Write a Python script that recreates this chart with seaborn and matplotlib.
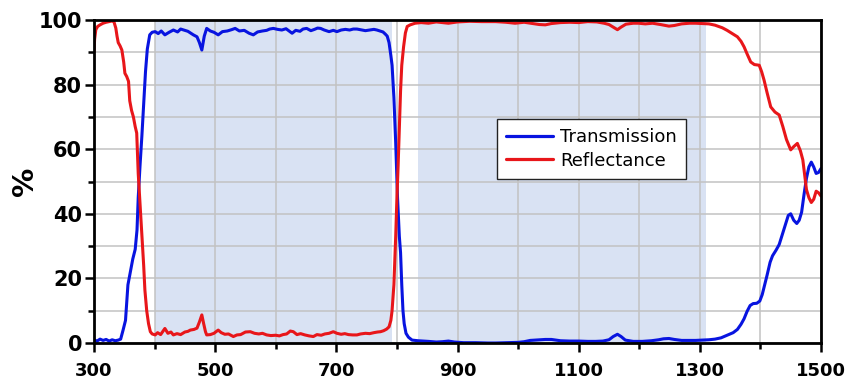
import matplotlib
matplotlib.use("Agg")
import matplotlib.pyplot as plt
import seaborn as sns
import pandas as pd
from matplotlib.ticker import MultipleLocator

# Transmission spectrum (wavelength in nm, value in %)
trans_nm = [300, 305, 310, 315, 320, 325, 330, 335, 340, 344, 348, 352, 356, 360, 364, 368,
            371, 373, 376, 379, 382, 385, 388, 392, 396, 401, 406, 411, 417, 424, 431, 438,
            443, 448, 455, 464, 470, 474, 478, 482, 486, 492, 498, 505, 512, 520, 527, 533,
            540, 548, 556, 563, 570, 578, 585, 590, 596, 603, 610, 617, 622, 627, 633, 640,
            645, 651, 658, 664, 669, 674, 680, 688, 695, 701, 708, 715, 722, 728, 734, 740,
            748, 755, 762, 767, 772, 777, 781, 784, 787, 790, 792, 795, 798, 801, 804, 806,
            808, 810, 812, 815, 819, 825, 835, 845, 852, 865, 875, 885, 895, 910, 930, 950,
            963, 980, 1000, 1010, 1020, 1035, 1045, 1055, 1070, 1085, 1100, 1115, 1128, 1140,
            1150, 1157, 1164, 1170, 1177, 1190, 1205, 1220, 1232, 1240, 1249, 1258, 1270,
            1283, 1293, 1305, 1315, 1325, 1335, 1345, 1355, 1362, 1368, 1373, 1378, 1383,
            1388, 1394, 1399, 1403, 1407, 1411, 1416, 1420, 1426, 1431, 1436, 1441, 1446,
            1450, 1455, 1460, 1464, 1468, 1472, 1476, 1480, 1484, 1488, 1492, 1496, 1500]
trans_pct = [1.0, 0.6, 1.2, 0.8, 1.1, 0.6, 1.0, 0.7, 0.9, 1.2, 4, 7, 18, 22, 26, 29,
             35, 45, 55, 64, 74, 84, 91, 95.4, 96.2, 96.4, 95.8, 96.6, 95.4, 96.2, 96.9, 96.3,
             97.2, 96.9, 96.5, 95.4, 94.8, 93, 90.7, 95, 97.4, 96.6, 96.2, 95.4, 96.4, 96.6, 97, 97.4,
             96.6, 96.8, 95.9, 95.4, 96.3, 96.6, 96.8, 97.2, 97.4, 97.1, 96.9, 97.3, 96.6, 95.9, 96.8, 96.5,
             97.2, 97.4, 96.7, 97.1, 97.5, 97.4, 96.9, 96.4, 96.8, 96.4, 96.9, 97.1, 96.9, 97.2, 97.2, 97.0,
             96.7, 96.9, 97.1, 96.9, 96.6, 96.3, 95.6, 95.0, 93, 89, 86, 76, 62, 45, 33, 28,
             18, 10, 6, 3, 1.8, 0.9, 0.7, 0.6, 0.5, 0.3, 0.4, 0.6, 0.3, 0.1, 0.1, 0.0,
             0.0, 0.1, 0.2, 0.4, 0.8, 1.0, 1.1, 1.1, 0.7, 0.6, 0.6, 0.5, 0.5, 0.6,
             1.0, 2.0, 2.7, 2.0, 0.9, 0.5, 0.5, 0.7, 1.0, 1.3, 1.4, 1.1, 0.8,
             0.8, 0.8, 0.9, 1.0, 1.2, 1.6, 2.4, 3.2, 4.2, 5.8, 7.5, 9.8, 11.6,
             12.2, 12.3, 13, 15, 18, 21, 25, 27, 28.8, 30.5, 33.5, 36.5, 39.5,
             40, 38, 37, 38, 40.5, 46, 51, 54.5, 56, 54.5, 52.5, 52.8, 54]

# Reflectance spectrum (wavelength in nm, value in %)
refl_nm = [300, 301, 303, 306, 310, 315, 320, 325, 330, 333, 336, 338, 340, 343, 346, 349,
           351, 354, 357, 359, 362, 365, 368, 370.5, 372, 373, 376, 379, 382, 384, 387, 390,
           393, 396, 401, 405, 410, 417, 422, 427, 431, 437, 443, 450, 455, 459, 465, 470,
           474, 478, 481, 484, 486, 492, 498, 505, 510, 516, 522, 530, 536, 542, 550, 558,
           565, 572, 578, 585, 592, 600, 606, 612, 618, 624, 629, 635, 641, 648, 655, 662,
           668, 675, 681, 688, 695, 701, 708, 714, 720, 727, 734, 740, 748, 755, 762, 768,
           773, 778, 783, 787, 790, 792, 795, 798, 800, 802, 804, 806, 808, 811, 814, 817,
           822, 830, 840, 852, 865, 885, 900, 920, 940, 963, 980, 995, 1010, 1025, 1035,
           1045, 1055, 1070, 1085, 1100, 1115, 1130, 1142, 1150, 1157, 1164, 1170, 1178,
           1190, 1199, 1210, 1222, 1235, 1249, 1258, 1270, 1283, 1293, 1305, 1315, 1325,
           1337, 1345, 1355, 1362, 1368, 1373, 1378, 1384, 1390, 1398, 1402, 1406, 1411,
           1417, 1424, 1431, 1437, 1443, 1450, 1455, 1461, 1466, 1470, 1473, 1476, 1480,
           1484, 1488, 1492, 1496, 1500]
refl_pct = [90, 94, 97, 98, 98.5, 99, 99.3, 99.5, 99.7, 99.4, 97.5, 95, 93, 92, 90.7, 87,
            83.5, 82.5, 81, 75, 72, 70, 67, 65, 58, 52.5, 43, 34, 24, 16.4, 10, 6,
            3.5, 2.8, 2.5, 3.2, 2.6, 4.5, 3.0, 3.4, 2.5, 2.9, 2.6, 3.4, 3.6, 4.0, 4.2, 4.6,
            6.5, 8.7, 6, 3.5, 2.5, 2.6, 3.0, 4.0, 3.2, 2.7, 2.8, 2.0, 2.5, 2.6, 3.4, 3.5,
            3.0, 2.8, 3.0, 2.5, 2.3, 2.4, 2.2, 2.6, 2.8, 3.7, 3.5, 2.6, 2.9, 2.5, 2.2, 2.0,
            2.6, 2.4, 2.8, 3.0, 3.5, 3.0, 2.7, 2.9, 2.6, 2.5, 2.5, 2.8, 3.0, 2.9, 3.2, 3.4,
            3.5, 3.8, 4.3, 5.0, 7, 10, 18, 33, 45, 55, 67, 78, 86, 91.7, 96, 98,
            98.5, 99, 99.2, 99, 99.4, 99.0, 99.4, 99.6, 99.5, 99.5, 99.3, 99.0, 99.3, 98.9, 98.6,
            98.5, 98.9, 99.2, 99.3, 99.2, 99.5, 99.4, 99.0, 98.6, 97.8, 97.0, 97.8, 98.7,
            99.0, 99.0, 98.8, 99.0, 98.6, 98.1, 98.3, 98.8, 99.0, 99.0, 98.9, 98.8, 98.4,
            97.6, 96.8, 95.6, 94.8, 93.4, 91.7, 89.5, 87, 86.2, 86, 84, 81.4, 77.5,
            73.1, 71.5, 70.6, 67, 63, 59.8, 60.8, 61.8, 59.5, 56.7, 52, 47.5, 45,
            43.5, 44.5, 47, 46.5, 45.5]

series_names = ["Transmission", "Reflectance"]
series_colors = ["#0814e0", "#e8161a"]

# Highlighted wavelength bands (nm)
band_edges = [(400, 792), (834, 1311)]

x_ticks = [300, 500, 700, 900, 1100, 1300, 1500]
y_ticks = [0, 20, 40, 60, 80, 100]

df = pd.concat([
    pd.DataFrame({"nm": trans_nm, "pct": trans_pct, "series": series_names[0]}),
    pd.DataFrame({"nm": refl_nm, "pct": refl_pct, "series": series_names[1]}),
], ignore_index=True)

sns.set_theme(style="white")
plt.rcParams["font.family"] = ["DejaVu Sans"]
plt.rcParams["text.color"] = "black"
plt.rcParams["axes.labelcolor"] = "black"
plt.rcParams["xtick.color"] = "black"
plt.rcParams["ytick.color"] = "black"

fig = plt.figure(figsize=(8.49, 3.82), dpi=100)
ax = fig.add_axes([94 / 849, 1 - 343 / 382, 727 / 849, 323 / 382])

for lo, hi in band_edges:
    ax.axvspan(lo, hi, color="#d9e2f3", lw=0, zorder=0)

sns.lineplot(data=df, x="nm", y="pct", hue="series", hue_order=series_names,
             palette=series_colors, estimator=None, sort=True, lw=2.2, ax=ax, zorder=3)

ax.set_xlim(300, 1500)
ax.set_ylim(0, 100)
ax.set_xticks(x_ticks)
ax.set_yticks(y_ticks)
ax.xaxis.set_minor_locator(MultipleLocator(100))
ax.yaxis.set_minor_locator(MultipleLocator(10))
ax.set_axisbelow(False)
ax.grid(True, which="both", color="#c2c2c2", lw=1.1)

ax.tick_params(axis="both", which="major", direction="out", length=6.5, width=1.8,
               color="black", labelcolor="black", bottom=True, left=True)
ax.tick_params(axis="both", which="minor", direction="out", length=4.5, width=1.8,
               color="black", bottom=True, left=True)
ax.tick_params(axis="x", which="major", labelsize=13, pad=7)
ax.tick_params(axis="y", which="major", labelsize=15, pad=2)
for lab in ax.get_xticklabels() + ax.get_yticklabels():
    lab.set_fontweight("bold")

for side in ["left", "bottom", "top", "right"]:
    ax.spines[side].set_visible(True)
    ax.spines[side].set_color("black")
    ax.spines[side].set_linewidth(2.0)
    ax.spines[side].set_zorder(5)

ax.set_xlabel("")
ax.set_ylabel("%", fontsize=21, fontweight="bold", labelpad=0, color="black")

leg = ax.legend(loc="upper left", bbox_to_anchor=(0.554, 0.693), borderaxespad=0,
                fontsize=13, frameon=True, fancybox=False, framealpha=1,
                edgecolor="#222222", facecolor="white",
                handlelength=2.6, handletextpad=0.4, labelspacing=0.3, borderpad=0.5)
leg.get_frame().set_linewidth(1.0)
for line in leg.get_lines():
    line.set_linewidth(2.3)
for t in leg.get_texts():
    t.set_color("black")
leg.set_zorder(6)

fig.savefig("out.png", dpi=100, facecolor="white")
